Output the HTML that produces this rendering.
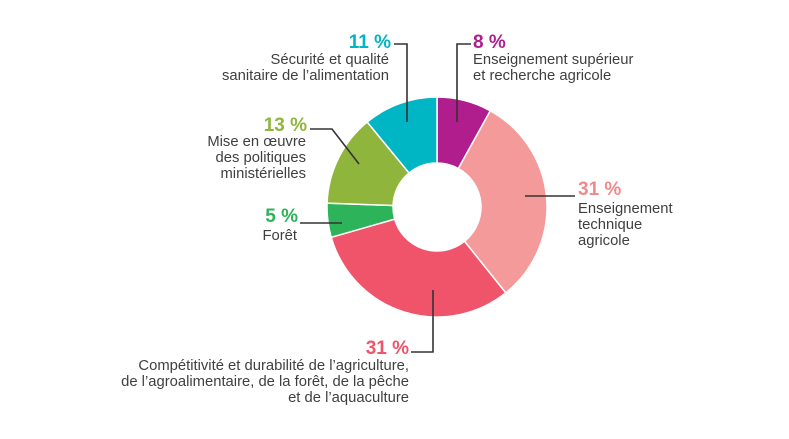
<!DOCTYPE html>
<html><head><meta charset="utf-8"><style>
body{margin:0;background:#fff;}
svg text{font-family:"Liberation Sans",sans-serif;}
.l{font-size:14.8px;fill:#3f3f3f;}
.p{font-size:19px;font-weight:bold;}
</style></head><body>
<svg id="s" width="789" height="434" viewBox="0 0 789 434" xmlns="http://www.w3.org/2000/svg">
<g id="d"></g>
<g stroke="#333" stroke-width="1.6" fill="none">
<polyline points="394,44 407,44 407,122"/>
<polyline points="471,44 457,44 457,122"/>
<polyline points="525,196 575,196"/>
<polyline points="433,290 433,352 411,352"/>
<polyline points="359,164 332,129 310,129"/>
<polyline points="342,223 300,223"/>
</g>
<text class="p" x="391" y="48" text-anchor="end" fill="#00b5c4">11 %</text>
<text class="l" x="389" y="64" text-anchor="end">Sécurité et qualité</text>
<text class="l" x="389" y="80" text-anchor="end">sanitaire de l’alimentation</text>
<text class="p" x="473" y="48" fill="#b01e8e">8 %</text>
<text class="l" x="473" y="64">Enseignement supérieur</text>
<text class="l" x="473" y="80">et recherche agricole</text>
<text class="p" x="578" y="195" fill="#f08a8a">31 %</text>
<text class="l" x="578" y="213">Enseignement</text>
<text class="l" x="578" y="229">technique</text>
<text class="l" x="578" y="245">agricole</text>
<text class="p" x="307" y="131" text-anchor="end" fill="#8fb53c">13 %</text>
<text class="l" x="306" y="146" text-anchor="end">Mise en œuvre</text>
<text class="l" x="306" y="162" text-anchor="end">des politiques</text>
<text class="l" x="306" y="178" text-anchor="end">ministérielles</text>
<text class="p" x="298" y="222" text-anchor="end" fill="#2db45a">5 %</text>
<text class="l" x="297" y="240" text-anchor="end">Forêt</text>
<text class="p" x="409" y="354" text-anchor="end" fill="#ef546b">31 %</text>
<text class="l" x="409" y="370" text-anchor="end">Compétitivité et durabilité de l’agriculture,</text>
<text class="l" x="409" y="386" text-anchor="end">de l’agroalimentaire, de la forêt, de la pêche</text>
<text class="l" x="409" y="402" text-anchor="end">et de l’aquaculture</text>
</svg>
<script>
var cx=437,cy=207,R=110,r=44;
var seg=[[0,29,"#b01e8e"],[29,141.3,"#f59a9a"],[141.3,254,"#ef546b"],[254,272,"#2db45a"],[272,320.6,"#8fb53c"],[320.6,360,"#00b5c4"]];
function pt(a,rad){a=a*Math.PI/180;return (cx+rad*Math.sin(a)).toFixed(2)+","+(cy-rad*Math.cos(a)).toFixed(2);}
var h="";
seg.forEach(function(s){var lg=(s[1]-s[0])>180?1:0;
h+='<path d="M'+pt(s[0],R)+' A'+R+','+R+' 0 '+lg+' 1 '+pt(s[1],R)+' L'+pt(s[1],r)+' A'+r+','+r+' 0 '+lg+' 0 '+pt(s[0],r)+' Z" fill="'+s[2]+'" stroke="#fff" stroke-width="1.5"/>';});
document.getElementById("d").innerHTML=h;
</script>
</body></html>
